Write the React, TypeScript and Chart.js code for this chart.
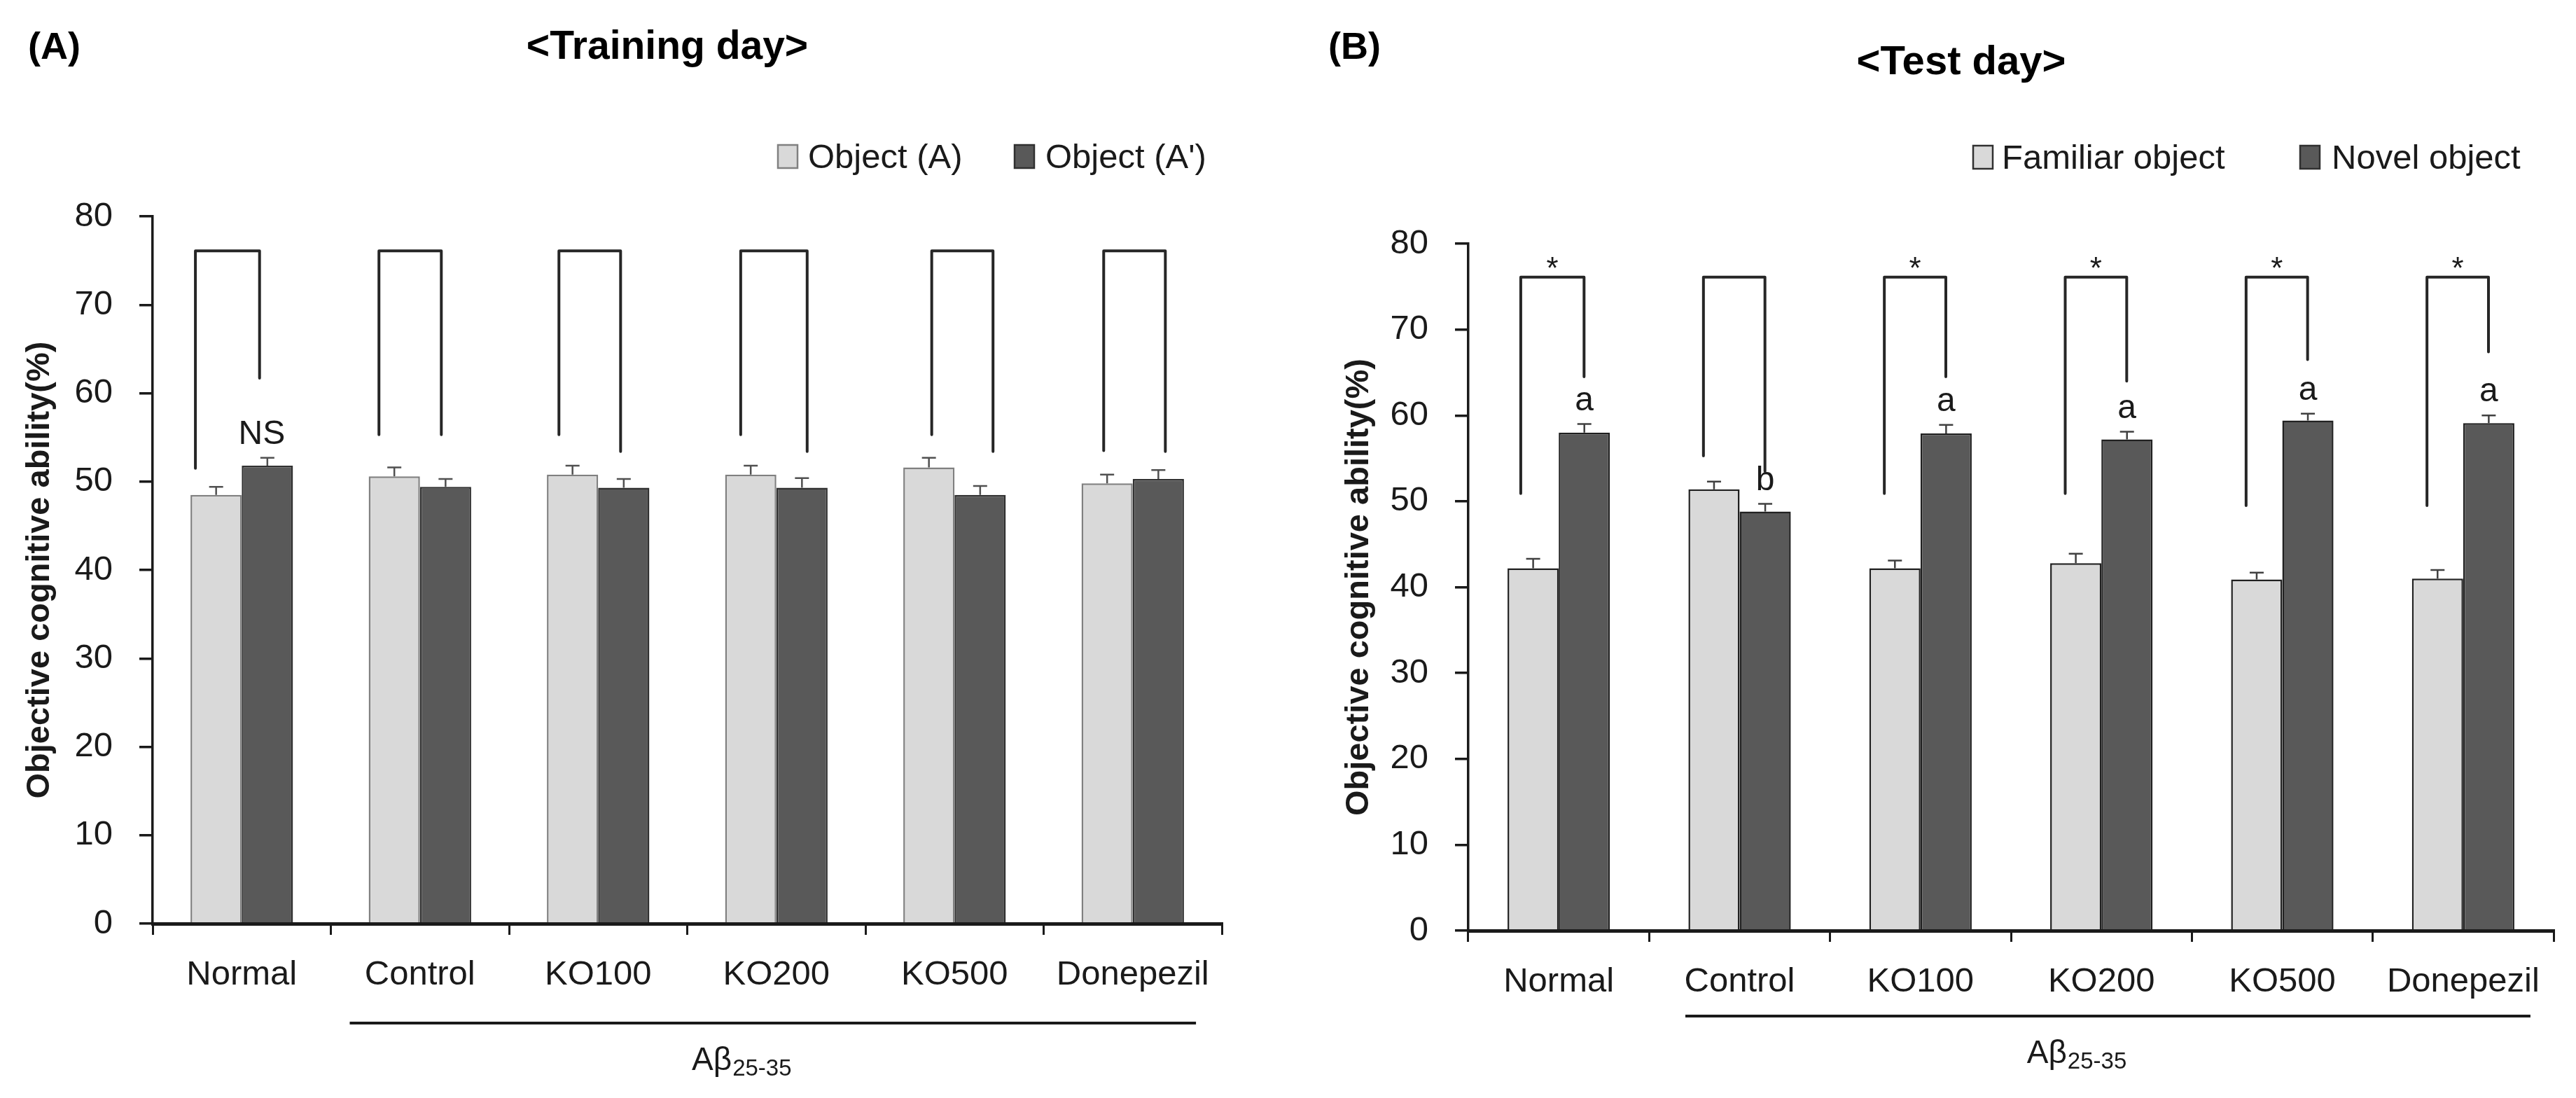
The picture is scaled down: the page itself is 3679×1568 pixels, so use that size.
import React, { useEffect, useRef } from 'react';
import { Chart, registerables } from 'chart.js';

Chart.register(...registerables);

// ---------------- data ----------------
const categories = ['Normal', 'Control', 'KO100', 'KO200', 'KO500', 'Donepezil'];
const yTickMax = 80;
const yTickStep = 10;

// (A) Training day
const trainingLegend = ['Object (A)', "Object (A')"];
const trainingObjectA = [48.5, 50.6, 50.8, 50.8, 51.6, 49.8];
const trainingObjectAErr = [0.9, 1.0, 1.0, 1.0, 1.1, 1.0];
const trainingObjectA2 = [51.8, 49.4, 49.3, 49.3, 48.5, 50.3];
const trainingObjectA2Err = [0.9, 0.9, 1.0, 1.1, 1.0, 1.0];
const trainingBracketTop = 76.1;
const trainingBracketLeftEnd = [51.5, 55.3, 55.3, 55.3, 55.3, 53.5];
const trainingBracketRightEnd = [61.7, 55.3, 53.4, 53.4, 53.4, 53.4];
const trainingStars = ['', '', '', '', '', ''];
const trainingLetters = ['NS', '', '', '', '', ''];

// (B) Test day
const testLegend = ['Familiar object', 'Novel object'];
const testFamiliar = [42.2, 51.4, 42.2, 42.8, 40.9, 41.0];
const testFamiliarErr = [1.1, 0.9, 0.9, 1.1, 0.8, 1.0];
const testNovel = [58.0, 48.8, 57.9, 57.2, 59.4, 59.1];
const testNovelErr = [1.0, 0.9, 1.0, 0.9, 0.8, 0.9];
const testBracketTop = 76.1;
const testBracketLeftEnd = [50.9, 55.3, 50.9, 50.9, 49.5, 49.5];
const testBracketRightEnd = [64.5, 53.5, 64.5, 64.0, 66.5, 67.4];
const testStars = ['*', '', '*', '*', '*', '*'];
const testLetters = ['a', 'b', 'a', 'a', 'a', 'a'];

const yAxisTitle = 'Objective cognitive ability(%)';
const groupLabelMain = 'A\u03B2';
const groupLabelSub = '25-35';

// ---------------- styles / layout ----------------
const W = 3679;
const H = 1568;
const SANS = '"Liberation Sans", Arial, Helvetica, sans-serif';
const INK = '#1a1a1a';
const LIGHT = '#d9d9d9';
const DARK = '#595959';
const Y_TITLE_SIZE = 47;

type Panel = {
  left: number;
  width: number;
  padTop: number;
  padRight: number;
  yAxisW: number;
  xAxisH: number;
  catPct: number;
  yTitleOffset: number;
  lightBorder: string;
  darkBorder: string;
  errColor: string;
  series: number[][];
  errors: number[][];
  legend: string[];
  bracketTop: number;
  bracketLeftEnd: number[];
  bracketRightEnd: number[];
  bracketX: number[][];
  stars: string[];
  letters: string[];
  panelLabel: string;
  panelLabelX: number;
  panelLabelY: number;
  title: string;
  titleX: number;
  titleY: number;
  titleSize: number;
  legendBoxX: number[];
  legendTextX: number[];
  legendBaseline: number;
  groupStart: number;
  groupEnd: number;
  groupLineY: number;
  groupLabelShift: number;
};

const PANEL_A: Panel = {
  left: 0,
  width: 1800,
  padTop: 309,
  padRight: 55,
  yAxisW: 218,
  xAxisH: 249,
  catPct: 0.575,
  yTitleOffset: 57,
  lightBorder: '#808080',
  darkBorder: '#303030',
  errColor: '#505050',
  series: [trainingObjectA, trainingObjectA2],
  errors: [trainingObjectAErr, trainingObjectA2Err],
  legend: trainingLegend,
  bracketTop: trainingBracketTop,
  bracketLeftEnd: trainingBracketLeftEnd,
  bracketRightEnd: trainingBracketRightEnd,
  bracketX: [[-0.26, 0.1], [-0.23, 0.12], [-0.22, 0.126], [-0.2, 0.173], [-0.128, 0.216], [-0.163, 0.183]],
  stars: trainingStars,
  letters: trainingLetters,
  panelLabel: '(A)',
  panelLabelX: 40,
  panelLabelY: 84,
  title: '<Training day>',
  titleX: 953,
  titleY: 84,
  titleSize: 57,
  legendBoxX: [1111, 1449],
  legendTextX: [1154, 1493],
  legendBaseline: 240,
  groupStart: -0.394,
  groupEnd: 0.355,
  groupLineY: 1461,
  groupLabelShift: -45,
};

const PANEL_B: Panel = {
  left: 1800,
  width: 1879,
  padTop: 348,
  padRight: 32,
  yAxisW: 297,
  xAxisH: 239,
  catPct: 0.566,
  yTitleOffset: 141,
  lightBorder: '#202020',
  darkBorder: '#202020',
  errColor: '#404040',
  series: [testFamiliar, testNovel],
  errors: [testFamiliarErr, testNovelErr],
  legend: testLegend,
  bracketTop: testBracketTop,
  bracketLeftEnd: testBracketLeftEnd,
  bracketRightEnd: testBracketRightEnd,
  bracketX: [[-0.21, 0.14], [-0.2, 0.14], [-0.2, 0.14], [-0.2, 0.14], [-0.2, 0.14], [-0.2, 0.14]],
  stars: testStars,
  letters: testLetters,
  panelLabel: '(B)',
  panelLabelX: 97,
  panelLabelY: 84,
  title: '<Test day>',
  titleX: 1001,
  titleY: 106,
  titleSize: 58,
  legendBoxX: [1018, 1485],
  legendTextX: [1059, 1530],
  legendBaseline: 241,
  groupStart: -0.3,
  groupEnd: 0.372,
  groupLineY: 1451,
  groupLabelShift: -45,
};

function overlay(p: Panel) {
  return {
    id: 'overlay' + p.panelLabel,
    afterDatasetsDraw(chart: any) {
      const ctx: CanvasRenderingContext2D = chart.ctx;
      const xs = chart.scales.x;
      const ys = chart.scales.y;
      const cw = xs.getPixelForValue(1) - xs.getPixelForValue(0);
      ctx.save();
      // error bars (upper only)
      chart.data.datasets.forEach((ds: any, di: number) => {
        const meta = chart.getDatasetMeta(di);
        meta.data.forEach((bar: any, i: number) => {
          const v = ds.data[i];
          const top = ys.getPixelForValue(v + p.errors[di][i]);
          const base = ys.getPixelForValue(v);
          ctx.strokeStyle = p.errColor;
          ctx.lineWidth = 2.5;
          ctx.beginPath();
          ctx.moveTo(bar.x, base);
          ctx.lineTo(bar.x, top);
          ctx.moveTo(bar.x - 10, top);
          ctx.lineTo(bar.x + 10, top);
          ctx.stroke();
        });
      });
      // brackets
      ctx.strokeStyle = '#262626';
      ctx.lineWidth = 4;
      ctx.lineJoin = 'round';
      ctx.lineCap = 'round';
      const yTop = ys.getPixelForValue(p.bracketTop);
      categories.forEach((_, i) => {
        const cx = xs.getPixelForValue(i);
        const lx = cx + p.bracketX[i][0] * cw;
        const rx = cx + p.bracketX[i][1] * cw;
        ctx.beginPath();
        ctx.moveTo(lx, ys.getPixelForValue(p.bracketLeftEnd[i]));
        ctx.lineTo(lx, yTop);
        ctx.lineTo(rx, yTop);
        ctx.lineTo(rx, ys.getPixelForValue(p.bracketRightEnd[i]));
        ctx.stroke();
        if (p.stars[i]) {
          ctx.fillStyle = INK;
          ctx.font = `44px ${SANS}`;
          ctx.textAlign = 'center';
          ctx.textBaseline = 'alphabetic';
          ctx.fillText(p.stars[i], (lx + rx) / 2, yTop + 2);
        }
      });
      // letters above dark bars
      const darkMeta = chart.getDatasetMeta(1);
      darkMeta.data.forEach((bar: any, i: number) => {
        const txt = p.letters[i];
        if (!txt) return;
        const v = p.series[1][i] + p.errors[1][i];
        ctx.fillStyle = INK;
        ctx.font = `48px ${SANS}`;
        ctx.textAlign = 'center';
        ctx.textBaseline = 'alphabetic';
        ctx.fillText(txt, bar.x - (txt === 'NS' ? 8 : 0), ys.getPixelForValue(v) - 20);
      });
      // group line and label
      const gs = xs.getPixelForValue(1) + p.groupStart * cw;
      const ge = xs.getPixelForValue(5) + p.groupEnd * cw;
      ctx.strokeStyle = INK;
      ctx.lineWidth = 4;
      ctx.lineCap = 'butt';
      ctx.beginPath();
      ctx.moveTo(gs, p.groupLineY);
      ctx.lineTo(ge, p.groupLineY);
      ctx.stroke();
      ctx.font = `46px ${SANS}`;
      const wMain = ctx.measureText(groupLabelMain).width;
      ctx.font = `33px ${SANS}`;
      const wSub = ctx.measureText(groupLabelSub).width;
      const start = (gs + ge) / 2 + p.groupLabelShift - (wMain + wSub) / 2;
      const base = p.groupLineY + 67;
      ctx.fillStyle = INK;
      ctx.textAlign = 'left';
      ctx.textBaseline = 'alphabetic';
      ctx.font = `46px ${SANS}`;
      ctx.fillText(groupLabelMain, start, base);
      ctx.font = `33px ${SANS}`;
      ctx.fillText(groupLabelSub, start + wMain + 1, base + 8);
      ctx.restore();
    },
    afterDraw(chart: any) {
      const ctx: CanvasRenderingContext2D = chart.ctx;
      ctx.save();
      ctx.fillStyle = '#000';
      ctx.textBaseline = 'alphabetic';
      ctx.font = `bold 54px ${SANS}`;
      ctx.textAlign = 'left';
      ctx.fillText(p.panelLabel, p.panelLabelX, p.panelLabelY);
      ctx.font = `bold ${p.titleSize}px ${SANS}`;
      ctx.textAlign = 'center';
      ctx.fillText(p.title, p.titleX, p.titleY);
      // legend
      const fills = [LIGHT, DARK];
      const borders = [p.lightBorder === '#808080' ? '#808080' : '#303030', '#303030'];
      for (let k = 0; k < 2; k++) {
        ctx.fillStyle = fills[k];
        ctx.fillRect(p.legendBoxX[k], p.legendBaseline - 33, 28, 33);
        ctx.strokeStyle = borders[k];
        ctx.lineWidth = 2.5;
        ctx.strokeRect(p.legendBoxX[k], p.legendBaseline - 33, 28, 33);
        ctx.fillStyle = INK;
        ctx.font = `49px ${SANS}`;
        ctx.textAlign = 'left';
        ctx.fillText(p.legend[k], p.legendTextX[k], p.legendBaseline);
      }
      ctx.restore();
    },
  };
}

function makeChart(canvas: HTMLCanvasElement, p: Panel) {
  const cfg: any = {
    type: 'bar',
    data: {
      labels: categories,
      datasets: [
        {
          label: p.legend[0],
          data: p.series[0],
          backgroundColor: LIGHT,
          borderColor: p.lightBorder,
          borderWidth: 2.5,
          categoryPercentage: p.catPct,
          barPercentage: 1,
        },
        {
          label: p.legend[1],
          data: p.series[1],
          backgroundColor: DARK,
          borderColor: p.darkBorder,
          borderWidth: 2.5,
          categoryPercentage: p.catPct,
          barPercentage: 1,
        },
      ],
    },
    options: {
      animation: false,
      responsive: false,
      devicePixelRatio: 1,
      layout: { padding: { top: p.padTop, right: p.padRight, left: 0, bottom: 0 } },
      plugins: {
        legend: { display: false },
        title: { display: false },
        tooltip: { enabled: false },
      },
      scales: {
        x: {
          grid: {
            display: true,
            drawOnChartArea: false,
            drawTicks: true,
            tickLength: 16,
            lineWidth: 3,
            color: INK,
            offset: true,
          },
          border: { display: true, color: INK, width: 5 },
          ticks: {
            font: { family: SANS, size: 49 },
            color: INK,
            padding: 28,
            maxRotation: 0,
            autoSkip: false,
          },
          afterFit: (s: any) => {
            s.height = p.xAxisH;
          },
        },
        y: {
          min: 0,
          max: yTickMax,
          grid: {
            display: true,
            drawOnChartArea: false,
            drawTicks: true,
            tickLength: 19,
            lineWidth: 3.5,
            color: INK,
          },
          border: { display: true, color: INK, width: 3.5 },
          ticks: {
            stepSize: yTickStep,
            font: { family: SANS, size: 49 },
            color: INK,
            padding: 38,
          },
          title: {
            display: true,
            text: yAxisTitle,
            color: INK,
            font: { family: SANS, size: Y_TITLE_SIZE, weight: 'bold' },
            padding: { top: p.yTitleOffset - (Y_TITLE_SIZE * 1.2) / 2, bottom: 0 },
          },
          afterFit: (s: any) => {
            s.width = p.yAxisW;
          },
        },
      },
    },
    plugins: [overlay(p)],
  };
  return new Chart(canvas, cfg);
}

export default function App() {
  const aRef = useRef<HTMLCanvasElement | null>(null);
  const bRef = useRef<HTMLCanvasElement | null>(null);
  useEffect(() => {
    document.body.style.margin = '0';
    const ca = makeChart(aRef.current as HTMLCanvasElement, PANEL_A);
    const cb = makeChart(bRef.current as HTMLCanvasElement, PANEL_B);
    return () => {
      ca.destroy();
      cb.destroy();
    };
  }, []);
  return (
    <div style={{ position: 'relative', width: W, height: H, background: '#fff', overflow: 'hidden' }}>
      <canvas ref={aRef} width={PANEL_A.width} height={H} style={{ position: 'absolute', left: PANEL_A.left, top: 0 }} />
      <canvas ref={bRef} width={PANEL_B.width} height={H} style={{ position: 'absolute', left: PANEL_B.left, top: 0 }} />
    </div>
  );
}
